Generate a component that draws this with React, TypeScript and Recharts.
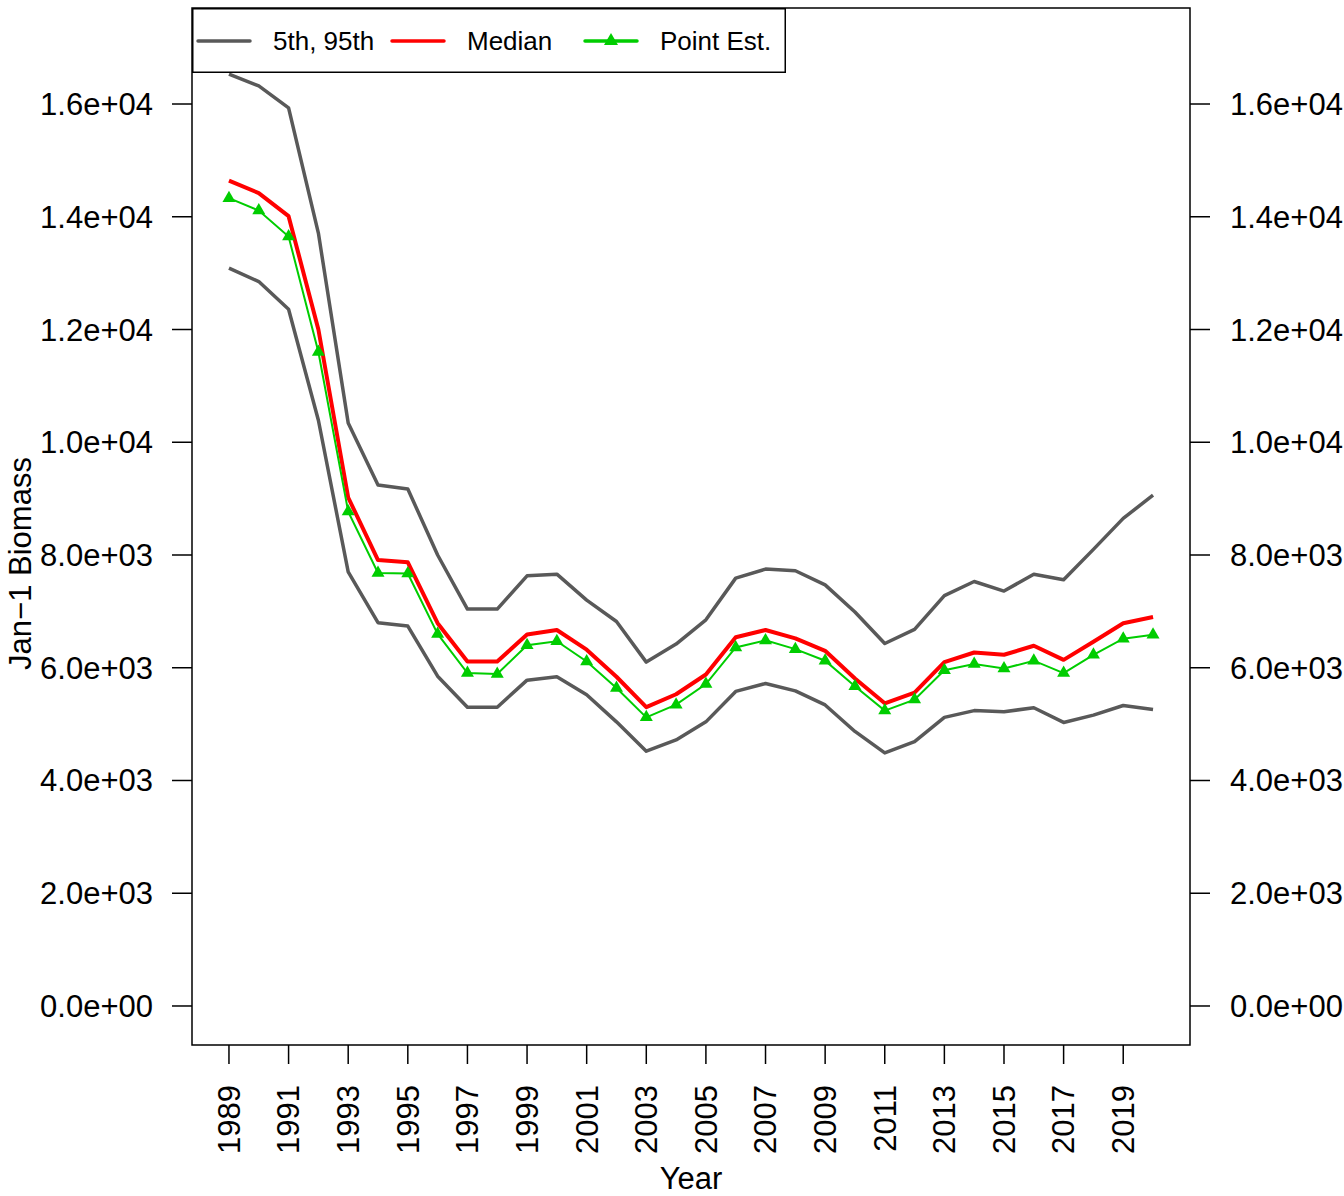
import React from 'react';
import { LineChart, Line, XAxis, YAxis, ReferenceArea, Legend } from 'recharts';

const FONT = '"Liberation Sans", Arial, Helvetica, sans-serif';

// years on the x axis
const years = [
  1989, 1990, 1991, 1992, 1993, 1994, 1995, 1996, 1997, 1998, 1999, 2000, 2001, 2002, 2003, 2004,
  2005, 2006, 2007, 2008, 2009, 2010, 2011, 2012, 2013, 2014, 2015, 2016, 2017, 2018, 2019, 2020,
];

// 95th percentile
const upper95 = [
  16530, 16320, 15930, 13710, 10340, 9240, 9170, 8000, 7040, 7040, 7630, 7660, 7200, 6820, 6100, 6420,
  6850, 7590, 7750, 7720, 7470, 6990, 6430, 6680, 7280, 7530, 7360, 7660, 7560, 8100, 8650, 9060,
];

// 5th percentile
const lower5 = [
  13090, 12850, 12360, 10390, 7700, 6800, 6740, 5850, 5300, 5300, 5780, 5840, 5520, 5040, 4520, 4720,
  5040, 5580, 5720, 5590, 5340, 4870, 4490, 4690, 5120, 5240, 5220, 5290, 5030, 5160, 5330, 5260,
];

const median = [
  14640, 14420, 14010, 12000, 9020, 7910, 7870, 6790, 6110, 6110, 6590, 6670, 6320, 5840, 5300, 5530,
  5880, 6540, 6670, 6520, 6300, 5810, 5370, 5560, 6100, 6270, 6230, 6390, 6140, 6460, 6790, 6900,
];

const pointEst = [
  14330, 14110, 13650, 11600, 8770, 7680, 7670, 6600, 5905, 5890, 6400, 6470, 6110, 5640, 5120, 5345,
  5710, 6360, 6485, 6330, 6125, 5670, 5240, 5435, 5955, 6065, 5985, 6125, 5905, 6230, 6515, 6585,
];

const xTicks = [1989, 1991, 1993, 1995, 1997, 1999, 2001, 2003, 2005, 2007, 2009, 2011, 2013, 2015, 2017, 2019];
const yTicks = [0, 2000, 4000, 6000, 8000, 10000, 12000, 14000, 16000];

const X_DOMAIN: [number, number] = [1987.76, 2021.24];
const Y_DOMAIN: [number, number] = [-692, 17703];

const GRAY = '#595959';
const RED = '#FF0000';
const GREEN = '#00CD00';

const data = years.map((year, i) => ({
  year,
  upper: upper95[i],
  lower: lower5[i],
  median: median[i],
  point: pointEst[i],
}));

// R style "1.6e+04"
const sciFormat = (v: number) => v.toExponential(1).replace(/e([+-])(\d)$/, 'e$10$2');

const YearTick = (props: any) => {
  const { x, y, payload } = props;
  return (
    <text
      x={x}
      y={y}
      transform={`rotate(-90, ${x}, ${y})`}
      textAnchor="end"
      dy="0.35em"
      fontSize={31}
      fontFamily={FONT}
      fill="#000"
    >
      {payload.value}
    </text>
  );
};

/** filled triangle like R's pch = 17 */
const Triangle = (props: any) => {
  const { cx, cy, fill, size = 6.5 } = props;
  if (cx == null || cy == null) return null;
  const r = size / 0.866;
  const pts = `${cx},${cy - r} ${cx + size},${cy + r / 2} ${cx - size},${cy + r / 2}`;
  return <polygon points={pts} fill={fill} stroke="none" />;
};

const renderYLabel = (props: any) => {
  const { viewBox } = props;
  const x = viewBox.x + 31;
  const y = viewBox.y + viewBox.height / 2 + 37;
  return (
    <text x={x} y={y} transform={`rotate(-90, ${x}, ${y})`} textAnchor="middle" fontSize={31} fontFamily={FONT} fill="#000">
      Jan−1 Biomass
    </text>
  );
};

const renderXLabel = (props: any) => {
  const { viewBox } = props;
  return (
    <text x={viewBox.x + viewBox.width / 2} y={viewBox.y + 144} textAnchor="middle" fontSize={31} fontFamily={FONT} fill="#000">
      Year
    </text>
  );
};

const legendEntries = [
  { label: '5th, 95th', color: GRAY, marker: false },
  { label: 'Median', color: RED, marker: false },
  { label: 'Point Est.', color: GREEN, marker: true },
];

const renderLegend = () => {
  const starts = [6, 200, 393];
  return (
    <svg width={594} height={65} style={{ display: 'block', background: '#fff' }}>
      <rect x={0.75} y={0.75} width={592.5} height={63.5} fill="#fff" stroke="#000" strokeWidth={1.5} />
      {legendEntries.map((e, i) => (
        <g key={e.label}>
          <line x1={starts[i]} x2={starts[i] + 52} y1={33} y2={33} stroke={e.color} strokeWidth={3.5} strokeLinecap="round" />
          {e.marker && <Triangle cx={starts[i] + 26} cy={33} fill={e.color} size={7} />}
          <text x={starts[i] + 75} y={42} fontSize={26} fontFamily={FONT} fill="#000">
            {e.label}
          </text>
        </g>
      ))}
    </svg>
  );
};

const tickStyle = { fill: '#000', fontSize: 31, fontFamily: FONT };
const tickLineStyle = { stroke: '#000', strokeWidth: 1.5 };

export default function App() {
  return (
    <div style={{ position: 'absolute', left: 0, top: 0, background: '#fff' }}>
      <LineChart width={1344} height={1196} data={data} margin={{ top: 8, right: 0, bottom: 0, left: 0 }}>
        <XAxis
          dataKey="year"
          type="number"
          domain={X_DOMAIN}
          allowDataOverflow
          ticks={xTicks}
          interval={0}
          height={151}
          tickSize={19}
          tickMargin={21}
          tick={<YearTick />}
          tickLine={tickLineStyle}
          axisLine={false}
          label={renderXLabel}
        />
        <YAxis
          yAxisId="left"
          type="number"
          domain={Y_DOMAIN}
          allowDataOverflow
          ticks={yTicks}
          interval={0}
          width={192}
          tickSize={20}
          tickMargin={19}
          tickFormatter={sciFormat}
          tick={tickStyle}
          tickLine={tickLineStyle}
          axisLine={false}
          label={renderYLabel}
        />
        <YAxis
          yAxisId="right"
          orientation="right"
          type="number"
          domain={Y_DOMAIN}
          allowDataOverflow
          ticks={yTicks}
          interval={0}
          width={154}
          tickSize={20}
          tickMargin={20}
          tickFormatter={sciFormat}
          tick={tickStyle}
          tickLine={tickLineStyle}
          axisLine={false}
        />
        <ReferenceArea
          yAxisId="left"
          x1={X_DOMAIN[0]}
          x2={X_DOMAIN[1]}
          y1={Y_DOMAIN[0]}
          y2={Y_DOMAIN[1]}
          fill="none"
          stroke="#000"
          strokeWidth={1.5}
          ifOverflow="visible"
        />
        <Line yAxisId="left" type="linear" dataKey="upper" stroke={GRAY} strokeWidth={3.5} dot={false} activeDot={false} strokeLinejoin="round" isAnimationActive={false} />
        <Line yAxisId="left" type="linear" dataKey="lower" stroke={GRAY} strokeWidth={3.5} dot={false} activeDot={false} strokeLinejoin="round" isAnimationActive={false} />
        <Line yAxisId="left" type="linear" dataKey="median" stroke={RED} strokeWidth={4} dot={false} activeDot={false} strokeLinejoin="round" isAnimationActive={false} />
        <Line
          yAxisId="left"
          type="linear"
          dataKey="point"
          stroke={GREEN}
          strokeWidth={2}
          dot={<Triangle fill={GREEN} />}
          activeDot={false}
          isAnimationActive={false}
        />
        <Legend
          layout="horizontal"
          verticalAlign="middle"
          align="center"
          content={renderLegend}
          wrapperStyle={{ position: 'absolute', left: 192, top: 8, width: 594, height: 65 }}
        />
      </LineChart>
    </div>
  );
}
